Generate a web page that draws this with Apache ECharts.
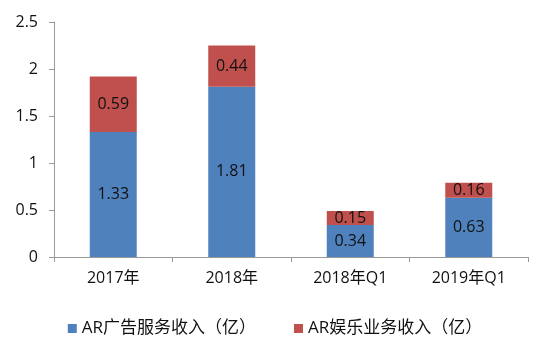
<!DOCTYPE html>
<html lang="zh">
<head>
    <meta charset="UTF-8">
    <title>AR收入</title>
    <style>
        html, body { margin: 0; padding: 0; background: #fff; }
    </style>
</head>
<body>
<div id="main" style="width: 550px;height:354px;"></div>
<script src="https://cdn.jsdelivr.net/npm/echarts@6/dist/echarts.min.js"></script>
<script>
// data
const categories = ['2017年', '2018年', '2018年Q1', '2019年Q1']
const adRevenue = [1.33, 1.81, 0.34, 0.63]
const entRevenue = [0.59, 0.44, 0.15, 0.16]
const seriesNames = ['AR广告服务收入（亿）', 'AR娱乐业务收入（亿）']

const FONT = '"Open Sans", "Noto Sans CJK SC", sans-serif'

let chartDom = document.getElementById('main')
let myChart = echarts.init(chartDom)

let labelStyle = {
    show: true,
    position: 'inside',
    color: '#111',
    fontSize: 16,
    fontFamily: FONT
}

let option = {
    animation: false,
    grid: { left: 54, right: 22, top: 22, bottom: 97 },
    legend: {
        bottom: 12,
        left: 'center',
        itemWidth: 9,
        itemHeight: 9,
        itemGap: 38,
        icon: 'rect',
        textStyle: { color: '#111', fontSize: 17, fontFamily: FONT },
        data: seriesNames
    },
    xAxis: {
        type: 'category',
        data: categories,
        axisLine: { lineStyle: { color: '#999' } },
        axisTick: { show: true, alignWithLabel: false, length: 5, lineStyle: { color: '#999' } },
        axisLabel: { color: '#111', fontSize: 16, margin: 13, fontFamily: FONT }
    },
    yAxis: {
        type: 'value',
        min: 0,
        max: 2.5,
        interval: 0.5,
        splitLine: { show: false },
        axisLine: { show: true, lineStyle: { color: '#999' } },
        axisTick: { show: true, length: 5, lineStyle: { color: '#999' } },
        axisLabel: { color: '#111', fontSize: 16, margin: 16, fontFamily: FONT }
    },
    series: [
        {
            name: seriesNames[0],
            type: 'bar',
            stack: 'total',
            barWidth: 47,
            data: adRevenue,
            itemStyle: { color: '#4F81BD' },
            label: labelStyle
        },
        {
            name: seriesNames[1],
            type: 'bar',
            stack: 'total',
            barWidth: 47,
            data: entRevenue,
            itemStyle: { color: '#C0504D' },
            label: labelStyle
        }
    ]
}
option && myChart.setOption(option)
</script>
</body>
</html>
